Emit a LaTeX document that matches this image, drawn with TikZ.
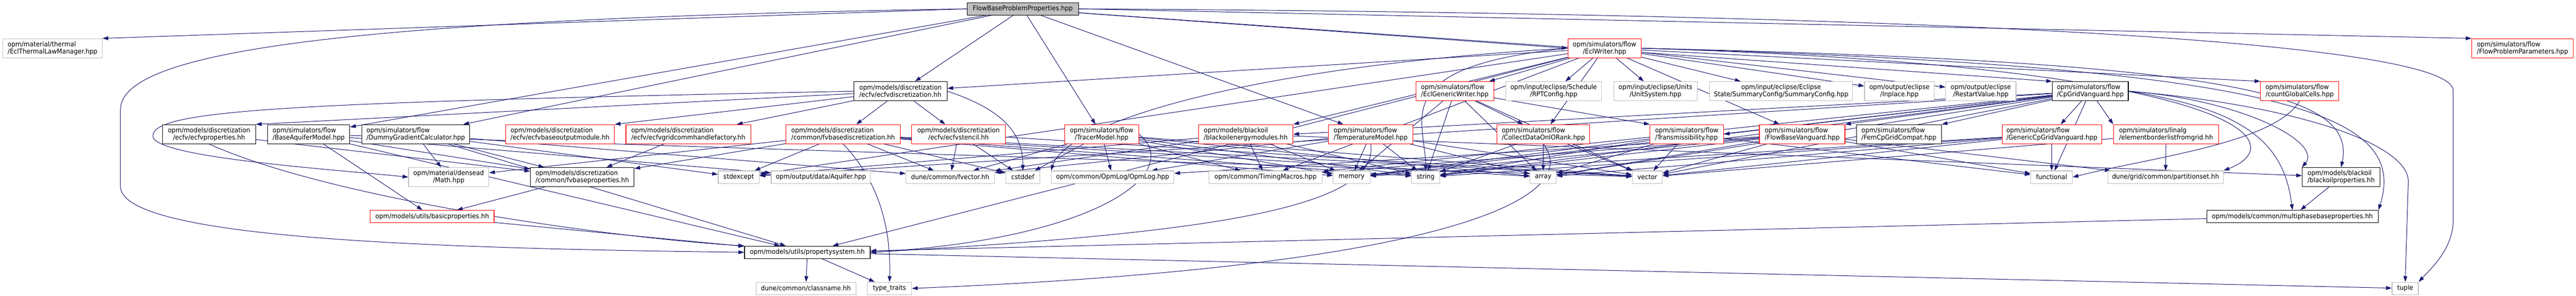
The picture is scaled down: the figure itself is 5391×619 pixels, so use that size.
\documentclass[tikz,border=0pt]{standalone}
\usepackage{fontspec}
\setmainfont{DejaVu Sans}[FakeStretch = 0.93]
\usepackage{tikz}
\usetikzlibrary{arrows.meta}
\usetikzlibrary{backgrounds}
\definecolor{midnight}{HTML}{191970}
\definecolor{sysgray}{HTML}{BFBFBF}
\tikzset{
file/.style = { rectangle, draw = sysgray, fill = white, line width = 1.2pt, inner sep = 0pt, font = \fontsize{14}{15}\selectfont },
red file/.style = { file, draw = red },
full file/.style = { file, draw = black },
root file/.style = { file, draw = black, fill = sysgray },
two/.style = { minimum height = 40pt },
one/.style = { minimum height = 26pt },
incl/.style = { draw = midnight, line width = 1.1pt, -{Triangle[length = 12pt, width = 8pt]} },
}

\begin{document}
\begin{tikzpicture}[x = 1pt, y = -1pt]
    \useasboundingbox (0, 0) rectangle (5391, 619);
    \node[root file, one, minimum width = 233pt] (root) at (2140.5, 18.5) {FlowBaseProblemProperties.hpp};
    \node[file, two, minimum width = 208pt, align = left] (thermal) at (110, 101) {opm/material/thermal\\/EclThermalLawManager.hpp};
    \node[red file, two, minimum width = 154pt, align = center] (eclwriter) at (3358, 101) {opm/simulators/flow\\/EclWriter.hpp};
    \node[red file, two, minimum width = 212pt, align = left] (probparams) at (5279, 101) {opm/simulators/flow\\/FlowProblemParameters.hpp};
    \node[full file, two, minimum width = 195pt, align = left] (ecfvdisc) at (1884.5, 191) {opm/models/discretization\\/ecfv/ecfvdiscretization.hh};
    \node[red file, two, minimum width = 163pt, align = left] (genwriter) at (3044.5, 191) {opm/simulators/flow\\/EclGenericWriter.hpp};
    \node[file, two, minimum width = 201pt, align = center] (rptconfig) at (3251.5, 191) {opm/input/eclipse/Schedule\\/RPTConfig.hpp};
    \node[file, two, minimum width = 175pt, align = center] (unitsystem) at (3464.5, 191) {opm/input/eclipse/Units\\/UnitSystem.hpp};
    \node[file, two, minimum width = 299pt, align = center] (summaryconfig) at (3727.5, 191) {opm/input/eclipse/Eclipse\\State/SummaryConfig/SummaryConfig.hpp};
    \node[file, two, minimum width = 146pt, align = center] (inplace) at (3975, 191) {opm/output/eclipse\\/Inplace.hpp};
    \node[file, two, minimum width = 147pt, align = center] (restartvalue) at (4145.5, 191) {opm/output/eclipse\\/RestartValue.hpp};
    \node[full file, two, minimum width = 159pt, align = left] (cpgridvanguard) at (4374.5, 191) {opm/simulators/flow\\/CpGridVanguard.hpp};
    \node[red file, two, minimum width = 163pt, align = left] (countcells) at (4812.5, 191) {opm/simulators/flow\\/countGlobalCells.hpp};
    \node[full file, two, minimum width = 195pt, align = center] (ecfvprops) at (437.5, 281) {opm/models/discretization\\/ecfv/ecfvproperties.hh};
    \node[full file, two, minimum width = 172pt, align = left] (baseaquifer) at (646, 281) {opm/simulators/flow\\/BaseAquiferModel.hpp};
    \node[full file, two, minimum width = 226pt, align = left] (dummygrad) at (870, 281) {opm/simulators/flow\\/DummyGradientCalculator.hpp};
    \node[red file, two, minimum width = 228pt, align = left] (ecfvoutput) at (1172, 281) {opm/models/discretization\\/ecfv/ecfvbaseoutputmodule.hh};
    \node[red file, two, minimum width = 261pt, align = left] (ecfvcomm) at (1440.5, 281) {opm/models/discretization\\/ecfv/ecfvgridcommhandlefactory.hh};
    \node[red file, two, minimum width = 239pt, align = left] (fvbasedisc) at (1764.5, 281) {opm/models/discretization\\/common/fvbasediscretization.hh};
    \node[red file, two, minimum width = 196pt, align = center] (ecfvstencil) at (2006, 281) {opm/models/discretization\\/ecfv/ecfvstencil.hh};
    \node[red file, two, minimum width = 155pt, align = center] (tracer) at (2305.5, 281) {opm/simulators/flow\\/TracerModel.hpp};
    \node[red file, two, minimum width = 198pt, align = left] (energy) at (2607, 281) {opm/models/blackoil\\/blackoilenergymodules.hh};
    \node[red file, two, minimum width = 177pt, align = left] (temperature) at (2868.5, 281) {opm/simulators/flow\\/TemperatureModel.hpp};
    \node[red file, two, minimum width = 194pt, align = left] (collectdata) at (3230, 281) {opm/simulators/flow\\/CollectDataOnIORank.hpp};
    \node[red file, two, minimum width = 154pt, align = left] (transmissibility) at (3530, 281) {opm/simulators/flow\\/Transmissibility.hpp};
    \node[red file, two, minimum width = 179pt, align = left] (flowvanguard) at (3771.5, 281) {opm/simulators/flow\\/FlowBaseVanguard.hpp};
    \node[full file, two, minimum width = 178pt, align = left] (femcompat) at (3974, 281) {opm/simulators/flow\\/FemCpGridCompat.hpp};
    \node[red file, two, minimum width = 208pt, align = left] (genericvanguard) at (4294, 281) {opm/simulators/flow\\/GenericCpGridVanguard.hpp};
    \node[red file, two, minimum width = 220pt, align = left] (elemborder) at (4533, 281) {opm/simulators/linalg\\/elementborderlistfromgrid.hh};
    \node[file, two, minimum width = 168pt, align = center] (densead) at (939, 371) {opm/material/densead\\/Math.hpp};
    \node[full file, two, minimum width = 217pt, align = left] (fvbaseprops) at (1218.5, 371) {opm/models/discretization\\/common/fvbaseproperties.hh};
    \node[file, one, minimum width = 86pt] (stdexcept) at (1546, 371) {stdexcept};
    \node[file, one, minimum width = 208pt] (aquifer) at (1718, 371) {opm/output/data/Aquifer.hpp};
    \node[file, one, minimum width = 185pt] (fvector) at (1988.5, 371) {dune/common/fvector.hh};
    \node[file, one, minimum width = 71pt] (cstddef) at (2140.5, 371) {cstddef};
    \node[file, one, minimum width = 257pt] (opmlog) at (2328.5, 371) {opm/common/OpmLog/OpmLog.hpp};
    \node[file, one, minimum width = 237pt] (timing) at (2648.5, 371) {opm/common/TimingMacros.hpp};
    \node[file, one, minimum width = 77pt] (memory) at (2828.5, 371) {memory};
    \node[file, one, minimum width = 59pt] (string) at (2983.5, 371) {string};
    \node[file, one, minimum width = 55pt] (array) at (3229.5, 371) {array};
    \node[file, one, minimum width = 63pt] (vector) at (3447.5, 371) {vector};
    \node[file, one, minimum width = 87pt] (functional) at (4293.5, 371) {functional};
    \node[file, one, minimum width = 242pt] (partitionset) at (4532, 371) {dune/grid/common/partitionset.hh};
    \node[full file, two, minimum width = 163pt, align = left] (blackoilprops) at (4899.5, 371) {opm/models/blackoil\\/blackoilproperties.hh};
    \node[red file, one, minimum width = 259pt] (basicprops) at (904.5, 453.5) {opm/models/utils/basicproperties.hh};
    \node[full file, one, minimum width = 359pt] (multiphase) at (4797.5, 453.5) {opm/models/common/multiphasebaseproperties.hh};
    \node[full file, one, minimum width = 263pt] (propsystem) at (1689.5, 528.5) {opm/models/utils/propertysystem.hh};
    \node[file, one, minimum width = 209pt] (classname) at (1686.5, 604) {dune/common/classname.hh};
    \node[file, one, minimum width = 93pt] (typetraits) at (1861.5, 604) {type\_traits};
    \node[file, one, minimum width = 55pt] (tuple) at (5033.5, 604) {tuple};
    \begin{scope}[on background layer]
    \draw[incl] (root.west) -- (thermal.north east);
    \draw[incl] (root) -- (ecfvdisc);
    \draw[incl] (root.west) .. controls (700, 40) and (252, 110) .. (252, 230) -- (252, 390) .. controls (252, 500) and (900, 520) .. (propsystem.west);
    \draw[incl] (root) -- (baseaquifer);
    \draw[incl] (root) -- (dummygrad);
    \draw[incl] (root) -- (eclwriter.west);
    \draw[incl] (root) -- (cpgridvanguard.north west);
    \draw[incl] (root.east) -- (probparams.north west);
    \draw[incl] (root) -- (tracer);
    \draw[incl] (root) -- (temperature);
    \draw[incl] (root.east) .. controls (4300, 30) and (5134, 100) .. (5134, 190) -- (5134, 460) .. controls (5134, 520) and (5090, 560) .. (tuple.north east);
    \draw[incl] (ecfvdisc) -- (ecfvprops.north east);
    \draw[incl] (ecfvdisc) -- (ecfvoutput.north east);
    \draw[incl] (ecfvdisc) -- (ecfvcomm);
    \draw[incl] (ecfvdisc) -- (fvbasedisc);
    \draw[incl] (ecfvdisc) -- (ecfvstencil);
    \draw[incl] (ecfvdisc.east) .. controls (2100, 230) and (2141, 280) .. (cstddef.north);
    \draw[incl] (ecfvdisc.west) .. controls (600, 215) and (320, 230) .. (320, 285) .. controls (320, 330) and (700, 355) .. (densead.west);
    \draw[incl] (eclwriter) -- (genwriter);
    \draw[incl] (eclwriter) -- (rptconfig);
    \draw[incl] (eclwriter) -- (unitsystem);
    \draw[incl] (eclwriter) -- (summaryconfig);
    \draw[incl] (eclwriter) -- (inplace);
    \draw[incl] (eclwriter) -- (restartvalue);
    \draw[incl] (eclwriter) -- (countcells.north west);
    \draw[incl] (eclwriter) -- (collectdata);
    \draw[incl] (eclwriter) -- (flowvanguard);
    \draw[incl] (eclwriter.east) .. controls (4700, 130) and (4930, 200) .. (blackoilprops.north);
    \draw[incl] (eclwriter.east) .. controls (4800, 140) and (5040, 240) .. (multiphase.north east);
    \draw[incl] (eclwriter.east) .. controls (4700, 140) and (4800, 300) .. (partitionset.north east);
    \draw[incl] (eclwriter) -- (ecfvdisc);
    \draw[incl] (eclwriter) -- (propsystem);
    \draw[incl] (eclwriter.west) .. controls (2600, 140) and (2230, 260) .. (opmlog.north west);
    \draw[incl] (eclwriter) -- (timing);
    \draw[incl] (eclwriter.west) .. controls (2900, 140) and (2983, 250) .. (string.north);
    \draw[incl] (eclwriter) -- (stdexcept);
    \draw[incl] (eclwriter) -- (energy.north east);
    \draw[incl] (genwriter) -- (collectdata);
    \draw[incl] (genwriter) -- (transmissibility.north west);
    \draw[incl] (genwriter) -- (memory);
    \draw[incl] (genwriter) -- (string);
    \draw[incl] (genwriter) -- (array);
    \draw[incl] (genwriter) -- (vector);
    \draw[incl] (cpgridvanguard) -- (flowvanguard.north east);
    \draw[incl] (cpgridvanguard) -- (genericvanguard);
    \draw[incl] (cpgridvanguard) -- (femcompat.north east);
    \draw[incl] (cpgridvanguard) -- (transmissibility.east);
    \draw[incl] (cpgridvanguard) -- (elemborder.north west);
    \draw[incl] (cpgridvanguard) -- (timing);
    \draw[incl] (cpgridvanguard.east) .. controls (4700, 230) and (4780, 300) .. (multiphase.north);
    \draw[incl] (cpgridvanguard.east) .. controls (4700, 210) and (4860, 300) .. (blackoilprops.north west);
    \draw[incl] (cpgridvanguard) -- (array);
    \draw[incl] (cpgridvanguard) -- (functional);
    \draw[incl] (cpgridvanguard) -- (memory);
    \draw[incl] (cpgridvanguard) -- (vector);
    \draw[incl] (cpgridvanguard) -- (string);
    \draw[incl] (cpgridvanguard.east) .. controls (4800, 220) and (5040, 300) .. (5040, 380) -- (tuple.north);
    \draw[incl] (cpgridvanguard) -- (energy.east);
    \draw[incl] (cpgridvanguard) -- (stdexcept);
    \draw[incl] (tracer) -- (fvector);
    \draw[incl] (tracer) -- (cstddef);
    \draw[incl] (tracer) -- (opmlog);
    \draw[incl] (tracer.east) .. controls (2480, 360) and (2300, 500) .. (propsystem.east);
    \draw[incl] (tracer) -- (timing);
    \draw[incl] (tracer) -- (string);
    \draw[incl] (tracer) -- (vector);
    \draw[incl] (tracer) -- (array);
    \draw[incl] (tracer) -- (memory);
    \draw[incl] (energy) -- (blackoilprops);
    \draw[incl] (energy) -- (fvector);
    \draw[incl] (energy) -- (stdexcept);
    \draw[incl] (energy) -- (string);
    \draw[incl] (energy) -- (memory);
    \draw[incl] (energy) -- (timing);
    \draw[incl] (temperature) -- (memory);
    \draw[incl] (temperature) -- (string);
    \draw[incl] (temperature) -- (array);
    \draw[incl] (temperature) -- (vector);
    \draw[incl] (temperature) -- (fvector);
    \draw[incl] (temperature) -- (opmlog);
    \draw[incl] (temperature.south) .. controls (2890, 440) and (2500, 490) .. (propsystem.east);
    \draw[incl] (collectdata) -- (array);
    \draw[incl] (collectdata) -- (vector);
    \draw[incl] (collectdata) -- (string);
    \draw[incl] (collectdata.south) .. controls (3320, 420) and (3000, 560) .. (typetraits.east);
    \draw[incl] (transmissibility) -- (array);
    \draw[incl] (transmissibility) -- (vector);
    \draw[incl] (transmissibility) -- (functional);
    \draw[incl] (transmissibility) -- (string);
    \draw[incl] (transmissibility) -- (memory);
    \draw[incl] (fvbasedisc) -- (densead);
    \draw[incl] (fvbasedisc) -- (fvbaseprops);
    \draw[incl] (fvbasedisc) -- (stdexcept);
    \draw[incl] (fvbasedisc) -- (fvector);
    \draw[incl] (fvbasedisc.south) .. controls (1840, 380) and (1865, 480) .. (typetraits.north);
    \draw[incl] (fvbasedisc) -- (cstddef);
    \draw[incl] (fvbasedisc) -- (string);
    \draw[incl] (fvbasedisc) -- (vector);
    \draw[incl] (fvbasedisc) -- (memory);
    \draw[incl] (fvbasedisc) -- (array);
    \draw[incl] (ecfvstencil) -- (fvector);
    \draw[incl] (ecfvstencil) -- (cstddef);
    \draw[incl] (ecfvstencil) -- (vector);
    \draw[incl] (ecfvcomm) -- (fvbaseprops);
    \draw[incl] (ecfvprops) -- (fvbaseprops);
    \draw[incl] (ecfvprops.south) .. controls (700, 420) and (1300, 500) .. (propsystem.north west);
    \draw[incl] (baseaquifer) -- (basicprops);
    \draw[incl] (baseaquifer) -- (fvbaseprops);
    \draw[incl] (baseaquifer) -- (aquifer);
    \draw[incl] (baseaquifer) -- (vector);
    \draw[incl] (baseaquifer) -- (propsystem);
    \draw[incl] (dummygrad) -- (fvbaseprops);
    \draw[incl] (dummygrad) -- (propsystem);
    \draw[incl] (dummygrad) -- (densead);
    \draw[incl] (dummygrad) -- (fvector);
    \draw[incl] (dummygrad) -- (stdexcept);
    \draw[incl] (fvbaseprops) -- (basicprops);
    \draw[incl] (basicprops) -- (propsystem);
    \draw[incl] (propsystem) -- (classname);
    \draw[incl] (propsystem) -- (typetraits);
    \draw[incl] (propsystem) -- (tuple);
    \draw[incl] (flowvanguard) -- (partitionset);
    \draw[incl] (flowvanguard) -- (opmlog);
    \draw[incl] (flowvanguard) -- (timing);
    \draw[incl] (flowvanguard) -- (string);
    \draw[incl] (flowvanguard) -- (vector);
    \draw[incl] (flowvanguard) -- (array);
    \draw[incl] (flowvanguard) -- (memory);
    \draw[incl] (flowvanguard) -- (functional);
    \draw[incl] (genericvanguard) -- (functional);
    \draw[incl] (genericvanguard) -- (vector);
    \draw[incl] (genericvanguard) -- (memory);
    \draw[incl] (genericvanguard) -- (string);
    \draw[incl] (genericvanguard) -- (array);
    \draw[incl] (elemborder) -- (partitionset);
    \draw[incl] (elemborder) -- (vector);
    \draw[incl] (countcells.south) .. controls (4760, 300) and (4500, 330) .. (functional.east);
    \draw[incl] (blackoilprops) -- (multiphase);
    \draw[incl] (multiphase) -- (propsystem);
    \end{scope}
\end{tikzpicture}
\end{document}
